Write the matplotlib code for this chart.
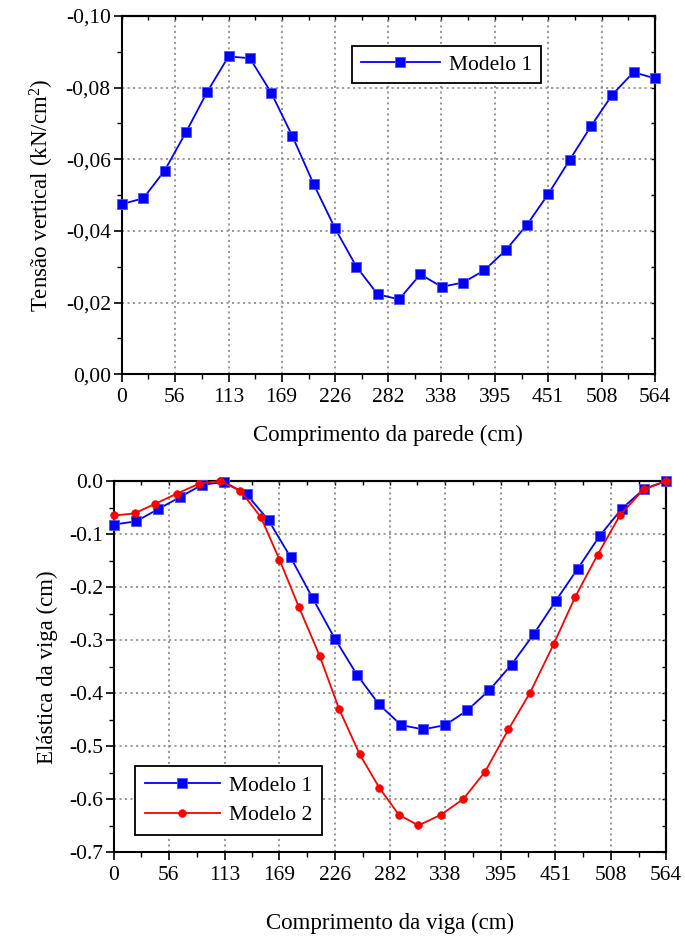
import matplotlib
matplotlib.use("Agg")
import matplotlib.pyplot as plt
from matplotlib.ticker import FixedLocator, MultipleLocator

plt.rcParams['font.family'] = ['Liberation Serif', 'DejaVu Serif']
plt.rcParams['mathtext.fontset'] = 'custom'
plt.rcParams['mathtext.rm'] = 'Liberation Serif'
plt.rcParams['mathtext.it'] = 'Liberation Serif:italic'

# ---- data -------------------------------------------------------------
# wall stress along the wall length (Modelo 1)
wall_x = [0.0, 22.6, 45.1, 67.7, 90.2, 112.8, 135.4, 157.9, 180.5, 203.0,
          225.6, 248.2, 270.7, 293.3, 315.8, 338.4, 361.0, 383.5, 406.1,
          428.6, 451.2, 473.8, 496.3, 518.9, 541.4, 564.0]
wall_stress = [-0.0475, -0.0491, -0.0568, -0.0675, -0.0788, -0.0887, -0.0882,
               -0.0786, -0.0664, -0.0530, -0.0407, -0.0300, -0.0223, -0.0209,
               -0.0279, -0.0244, -0.0256, -0.0290, -0.0346, -0.0417, -0.0503,
               -0.0598, -0.0692, -0.0780, -0.0843, -0.0826]

# beam deflection, Modelo 1
beam_x1 = wall_x
beam_defl1 = [-0.082, -0.076, -0.053, -0.030, -0.007, -0.002, -0.025, -0.074,
              -0.144, -0.221, -0.297, -0.365, -0.421, -0.460, -0.468, -0.460,
              -0.432, -0.394, -0.346, -0.289, -0.226, -0.165, -0.103, -0.052,
              -0.015, 0.0]

# beam deflection, Modelo 2
beam_x2 = [0, 21, 42, 64, 87, 108, 129, 150, 169, 189, 210, 230, 251, 271,
           291, 311, 334, 357, 379, 403, 425, 449, 471, 494, 517, 541, 564]
beam_defl2 = [-0.065, -0.061, -0.043, -0.024, -0.005, 0.0, -0.018, -0.068,
              -0.148, -0.238, -0.329, -0.430, -0.515, -0.578, -0.629, -0.649,
              -0.629, -0.599, -0.548, -0.468, -0.399, -0.308, -0.219, -0.139,
              -0.064, -0.016, 0.0]

x_ticks = [0, 56, 113, 169, 226, 282, 338, 395, 451, 508, 564]
x_tick_labels = ["0", "56", "113", "169", "226", "282", "338", "395", "451", "508", "564"]
top_y_ticks = [0.0, -0.02, -0.04, -0.06, -0.08, -0.10]
top_y_labels = ["0,00", "-0,02", "-0,04", "-0,06", "-0,08", "-0,10"]
bot_y_ticks = [0.0, -0.1, -0.2, -0.3, -0.4, -0.5, -0.6, -0.7]
bot_y_labels = ["0.0", "-0.1", "-0.2", "-0.3", "-0.4", "-0.5", "-0.6", "-0.7"]

FS = 15.5       # tick labels
FS_LAB = 16.5   # axis titles
FS_LEG = 15.5   # legend entries
BLUE = '#0000ff'
RED = '#ff0000'

fig = plt.figure(figsize=(6.85, 9.38), dpi=100)
ax1 = fig.add_axes([0.178, 0.601, 0.778, 0.382])
ax2 = fig.add_axes([0.1664, 0.0912, 0.806, 0.396])


def style_axes(ax):
    for sp in ax.spines.values():
        sp.set_linewidth(1.5)
        sp.set_color('black')
    ax.set_xlim(0, 564)
    ax.xaxis.set_major_locator(FixedLocator(x_ticks))
    ax.set_xticklabels(x_tick_labels)
    ax.xaxis.set_minor_locator(FixedLocator(
        [(a + b) / 2 for a, b in zip(x_ticks[:-1], x_ticks[1:])]))
    ax.tick_params(which='major', direction='out', length=6, width=1.2,
                   labelsize=FS, top=False, right=False)
    ax.tick_params(axis='x', which='major', pad=4)
    ax.tick_params(axis='y', which='major', pad=2)
    ax.tick_params(which='minor', direction='out', length=3.5, width=1.0,
                   top=False, right=False)
    ax.grid(True, which='major', color='#7f7f7f', linestyle=(0, (1.4, 2.2)),
            linewidth=1.1)
    ax.set_axisbelow(True)
    # inward ticks along the top edge
    sec_x = ax.secondary_xaxis('top')
    sec_x.xaxis.set_major_locator(FixedLocator(x_ticks))
    sec_x.xaxis.set_minor_locator(ax.xaxis.get_minor_locator())
    sec_x.tick_params(which='both', direction='in', length=3, width=1.0,
                      labeltop=False)
    sec_x.spines['top'].set_linewidth(1.5)
    return sec_x


def right_ticks(ax, ticks, minor_step):
    sec_y = ax.secondary_yaxis('right')
    sec_y.yaxis.set_major_locator(FixedLocator(ticks))
    sec_y.yaxis.set_minor_locator(MultipleLocator(minor_step))
    sec_y.tick_params(which='both', direction='in', length=3, width=1.0,
                      labelright=False)
    sec_y.spines['right'].set_linewidth(1.5)
    return sec_y


style_axes(ax1)
style_axes(ax2)

# ---- top panel: vertical stress in the wall -------------------------
ax1.plot(wall_x, wall_stress, color=BLUE, lw=1.3, marker='s', ms=7,
         mfc=BLUE, mec='#5050ff', mew=0.6, label='Modelo 1', clip_on=False,
         zorder=3)
ax1.set_ylim(0.0, -0.10)
ax1.yaxis.set_major_locator(FixedLocator(top_y_ticks))
ax1.set_yticklabels(top_y_labels)
ax1.yaxis.set_minor_locator(MultipleLocator(0.01))
right_ticks(ax1, top_y_ticks, 0.01)
ax1.set_xlabel('Comprimento da parede (cm)', fontsize=FS_LAB, labelpad=13)
ax1.set_ylabel('Tensão vertical (kN/cm$^{\\mathrm{2}}$)', fontsize=FS_LAB,
               labelpad=7)
leg1 = ax1.legend(loc='upper left', bbox_to_anchor=(0.4315, 0.916),
                  fontsize=FS_LEG, frameon=True, fancybox=False, framealpha=1,
                  edgecolor='black', handlelength=3.7, borderpad=0.4,
                  handletextpad=0.4, borderaxespad=0)
leg1.get_frame().set_linewidth(1.3)

# ---- bottom panel: beam deflection -----------------------------------
ax2.plot(beam_x1, beam_defl1, color=BLUE, lw=1.3, marker='s', ms=7,
         mfc=BLUE, mec='#5050ff', mew=0.6, label='Modelo 1', clip_on=False,
         zorder=3)
ax2.plot(beam_x2, beam_defl2, color=RED, lw=1.3, marker='o', ms=5.5,
         mfc=RED, mec=RED, mew=0.5, label='Modelo 2', clip_on=False,
         zorder=4)
ax2.set_ylim(-0.7, 0.0)
ax2.yaxis.set_major_locator(FixedLocator(bot_y_ticks))
ax2.set_yticklabels(bot_y_labels)
ax2.yaxis.set_minor_locator(MultipleLocator(0.05))
right_ticks(ax2, bot_y_ticks, 0.05)
ax2.set_xlabel('Comprimento da viga (cm)', fontsize=FS_LAB, labelpad=20)
ax2.set_ylabel('Elástica da viga (cm)', fontsize=FS_LAB, labelpad=8)
leg2 = ax2.legend(loc='lower left', bbox_to_anchor=(0.038, 0.047),
                  fontsize=FS_LEG, frameon=True, fancybox=False, framealpha=1,
                  edgecolor='black', handlelength=3.5, borderpad=0.45,
                  labelspacing=0.45, handletextpad=0.4, borderaxespad=0)
leg2.get_frame().set_linewidth(1.3)

fig.savefig('out.png', dpi=100)
